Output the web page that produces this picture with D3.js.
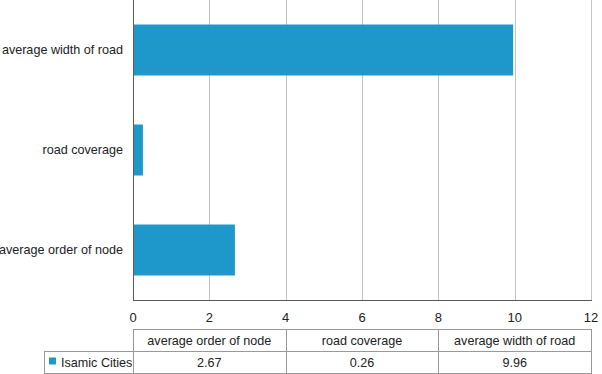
<!DOCTYPE html>
<html>
<head>
<meta charset="utf-8">
<script src="https://cdn.jsdelivr.net/npm/d3@7"></script>
<style>
  body { margin: 0; background: #fff; }
  svg { display: block; font-family: "Liberation Sans", Arial, sans-serif; }
</style>
</head>
<body>
<div id="chart"></div>
<script>
// chart values
const categories = ['average order of node', 'road coverage', 'average width of road'];
const seriesName = 'Isamic Cities';
const values = [2.67, 0.26, 9.96];
const tableLabels = ['2.67', '0.26', '9.96'];
const xTicks = [0, 2, 4, 6, 8, 10, 12];

const W = 602, H = 374;
const plotLeft = 133, plotRight = 591, plotTop = 0, plotBottom = 300;
const barColor = '#1e98ca';
const labelSize = '12.6px';

const svg = d3.select('#chart').append('svg')
    .attr('width', W)
    .attr('height', H);

const x = d3.scaleLinear().domain([0, 12]).range([plotLeft, plotRight]);
// top-to-bottom order is reversed from the data order
const y = d3.scaleBand()
    .domain(categories.slice().reverse())
    .range([plotTop, plotBottom])
    .paddingInner(0.49)
    .paddingOuter(0.245);

// grid lines
svg.append('g')
    .selectAll('line')
    .data(xTicks.filter((d) => d > 0))
    .enter()
    .append('line')
    .attr('x1', (d) => Math.round(x(d)) + 0.5)
    .attr('x2', (d) => Math.round(x(d)) + 0.5)
    .attr('y1', plotTop)
    .attr('y2', plotBottom)
    .style('stroke', '#c4c4c4')
    .style('stroke-width', 1);

// bars
svg.append('g')
    .selectAll('rect')
    .data(values)
    .enter()
    .append('rect')
    .attr('x', x(0))
    .attr('y', (d, i) => y(categories[i]))
    .attr('width', (d) => x(d) - x(0))
    .attr('height', y.bandwidth())
    .style('fill', barColor);

// axis lines
svg.append('line')
    .attr('x1', plotLeft + 0.5).attr('x2', plotLeft + 0.5)
    .attr('y1', plotTop).attr('y2', plotBottom + 0.5)
    .style('stroke', '#5a5a5a').style('stroke-width', 1);
svg.append('line')
    .attr('x1', plotLeft).attr('x2', plotRight + 1)
    .attr('y1', plotBottom + 0.5).attr('y2', plotBottom + 0.5)
    .style('stroke', '#5a5a5a').style('stroke-width', 1);

// category labels
svg.append('g')
    .selectAll('text')
    .data(categories)
    .enter()
    .append('text')
    .attr('x', plotLeft - 10)
    .attr('y', (d) => y(d) + y.bandwidth() / 2)
    .attr('dy', '.35em')
    .style('text-anchor', 'end')
    .style('font-size', labelSize)
    .style('fill', '#222')
    .text((d) => d);

// tick labels
svg.append('g')
    .selectAll('text')
    .data(xTicks)
    .enter()
    .append('text')
    .attr('x', (d) => x(d))
    .attr('y', 317)
    .attr('dy', '.35em')
    .style('text-anchor', 'middle')
    .style('font-size', '13px')
    .style('fill', '#222')
    .text((d) => d);

// data table
const rowTop = 329.5, rowMid = 351.5, rowBot = 373.5, legendLeft = 44.5;
const colW = (plotRight - plotLeft) / categories.length;
const table = svg.append('g').style('stroke', '#999').style('stroke-width', 1).style('fill', 'none');

table.append('rect')
    .attr('x', plotLeft + 0.5).attr('y', rowTop)
    .attr('width', plotRight - plotLeft).attr('height', rowBot - rowTop);
table.append('rect')
    .attr('x', legendLeft).attr('y', rowMid)
    .attr('width', plotRight + 0.5 - legendLeft).attr('height', rowBot - rowMid);
table.selectAll('line.col')
    .data(d3.range(1, categories.length))
    .enter()
    .append('line')
    .attr('class', 'col')
    .attr('x1', (i) => Math.round(plotLeft + i * colW) + 0.5)
    .attr('x2', (i) => Math.round(plotLeft + i * colW) + 0.5)
    .attr('y1', rowTop).attr('y2', rowBot);

svg.append('g')
    .selectAll('text')
    .data(categories)
    .enter()
    .append('text')
    .attr('x', (d, i) => plotLeft + (i + 0.5) * colW)
    .attr('y', (rowTop + rowMid) / 2)
    .attr('dy', '.35em')
    .style('text-anchor', 'middle')
    .style('font-size', labelSize)
    .style('fill', '#222')
    .text((d) => d);

svg.append('g')
    .selectAll('text')
    .data(tableLabels)
    .enter()
    .append('text')
    .attr('x', (d, i) => plotLeft + (i + 0.5) * colW)
    .attr('y', (rowMid + rowBot) / 2)
    .attr('dy', '.35em')
    .style('text-anchor', 'middle')
    .style('font-size', labelSize)
    .style('fill', '#222')
    .text((d) => d);

// legend key
svg.append('rect')
    .attr('x', 49).attr('y', 357.5)
    .attr('width', 7).attr('height', 7)
    .style('fill', barColor);
svg.append('text')
    .attr('x', 61)
    .attr('y', (rowMid + rowBot) / 2)
    .attr('dy', '.35em')
    .style('font-size', labelSize)
    .style('fill', '#222')
    .text(seriesName);
</script>
</body>
</html>
